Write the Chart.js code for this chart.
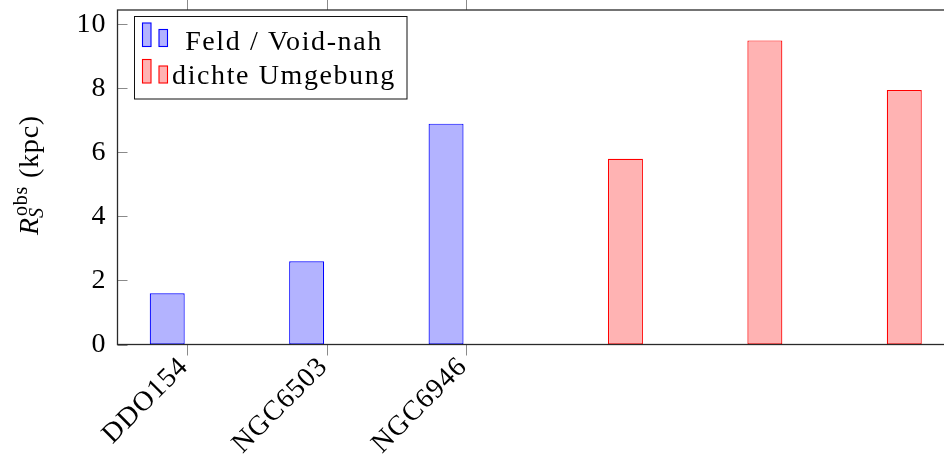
<!DOCTYPE html>
<html>
<head>
<meta charset="utf-8">
<script src="https://cdn.jsdelivr.net/npm/chart.js@4/dist/chart.umd.min.js"></script>
<style>
  html, body { margin: 0; padding: 0; overflow: hidden; background: #fff; width: 944px; height: 459px; }
  #wrap { position: absolute; left: 0; top: 0; width: 962px; height: 459px; }
</style>
</head>
<body>
<div id="wrap"><canvas id="c" width="962" height="459"></canvas></div>
<script>
// Galaxies (only the first three are labelled on the axis)
const galaxies = ['DDO154', 'NGC6503', 'NGC6946', '', '', ''];
// Observed scale radius R_S^obs in kpc
const fieldRadius = [1.6, 2.6, 6.9, null, null, null];
const denseRadius = [null, null, null, 5.8, 9.5, 7.95];
const yTicks = [0, 2, 4, 6, 8, 10];
const seriesNames = ['Feld / Void-nah', 'dichte Umgebung'];

const SERIF = '"Liberation Serif", "Times New Roman", serif';
const BLUE = 'rgb(0,0,255)', BLUE_FILL = 'rgb(179,179,255)';
const RED = 'rgb(255,0,0)', RED_FILL = 'rgb(255,179,179)';

// Slightly looser tracking for the tick labels
const tracking = {
  id: 'tracking',
  beforeDraw(chart) { chart.ctx.letterSpacing = '1px'; },
  afterDatasetsDraw(chart) { chart.ctx.letterSpacing = '0px'; }
};

// Frame, outward x ticks, inward y ticks, legend and rotated y title
const decorations = {
  id: 'decorations',
  afterDraw(chart) {
    const ctx = chart.ctx;
    const a = chart.chartArea;
    const xs = chart.scales.x, ys = chart.scales.y;
    ctx.save();

    // tick marks
    ctx.strokeStyle = '#8a8a8a';
    ctx.lineWidth = 1;
    ctx.beginPath();
    galaxies.forEach((g, i) => {
      if (!g) return;
      const x = Math.round(xs.getPixelForValue(i)) + 0.5;
      ctx.moveTo(x, a.bottom); ctx.lineTo(x, a.bottom + 11);
      ctx.moveTo(x, a.top); ctx.lineTo(x, a.top - 11);
    });
    yTicks.forEach(v => {
      const y = Math.round(ys.getPixelForValue(v)) + 0.5;
      ctx.moveTo(a.left, y); ctx.lineTo(a.left + 10, y);
      ctx.moveTo(a.right, y); ctx.lineTo(a.right - 10, y);
    });
    ctx.stroke();

    // axis frame
    ctx.strokeStyle = '#2a2a2a';
    ctx.lineWidth = 1.3;
    ctx.strokeRect(a.left, a.top, a.right - a.left, a.bottom - a.top);

    // legend
    const lx = 134.5, ly = 16.5, lw = 272.5, lh = 82.5;
    ctx.fillStyle = '#fff';
    ctx.fillRect(lx, ly, lw, lh);
    ctx.strokeStyle = '#111';
    ctx.lineWidth = 1;
    ctx.strokeRect(lx, ly, lw, lh);
    const entries = [
      { fill: BLUE_FILL, stroke: BLUE, dy: 0 },
      { fill: RED_FILL, stroke: RED, dy: 36.5 }
    ];
    entries.forEach(e => {
      ctx.fillStyle = e.fill;
      ctx.strokeStyle = e.stroke;
      ctx.lineWidth = 1.1;
      ctx.fillRect(142.5, 23 + e.dy, 8.5, 23.5);
      ctx.strokeRect(142.5, 23 + e.dy, 8.5, 23.5);
      ctx.fillRect(159, 29.5 + e.dy, 8.5, 17);
      ctx.strokeRect(159, 29.5 + e.dy, 8.5, 17);
    });
    ctx.fillStyle = '#000';
    ctx.font = '28px ' + SERIF;
    ctx.letterSpacing = '1.6px';
    ctx.textAlign = 'center';
    ctx.textBaseline = 'alphabetic';
    ctx.fillText(seriesNames[0], 284, 50);
    ctx.fillText(seriesNames[1], 284, 83.5);

    // y axis title: R_S^obs (kpc)
    ctx.translate(37.5, 175);
    ctx.rotate(-Math.PI / 2);
    ctx.textAlign = 'left';
    ctx.letterSpacing = '0.8px';
    const fR = 'italic 28px ' + SERIF, fS = 'italic 20px ' + SERIF, fO = '20px ' + SERIF, fK = '28px ' + SERIF;
    ctx.font = fR; const wR = ctx.measureText('R').width;
    ctx.font = fS; const wS = ctx.measureText('S').width;
    ctx.font = fO; const wO = ctx.measureText('obs').width;
    ctx.font = fK; const wK = ctx.measureText(' (kpc)').width;
    const total = wR + 1 + Math.max(wS, wO) + wK;
    const x0 = -total / 2;
    ctx.fillStyle = '#000';
    ctx.font = fR; ctx.fillText('R', x0, 0);
    ctx.font = fS; ctx.fillText('S', x0 + wR - 1, 5);
    ctx.font = fO; ctx.fillText('obs', x0 + wR + 1, -11);
    ctx.font = fK; ctx.fillText(' (kpc)', x0 + wR + 1 + Math.max(wS, wO), 0);
    ctx.restore();
  }
};

function zeroPadding(s) {
  s.paddingTop = 0; s.paddingBottom = 0; s.paddingLeft = 0; s.paddingRight = 0;
}

function draw() {
  new Chart(document.getElementById('c'), {
    type: 'bar',
    data: {
      labels: galaxies,
      datasets: [
        { label: seriesNames[0], data: fieldRadius, backgroundColor: BLUE_FILL, borderColor: BLUE,
          borderWidth: 1.2, borderSkipped: false, categoryPercentage: 0.5735, barPercentage: 0.875 },
        { label: seriesNames[1], data: denseRadius, backgroundColor: RED_FILL, borderColor: RED,
          borderWidth: 1.2, borderSkipped: false, categoryPercentage: 0.5735, barPercentage: 0.875 }
      ]
    },
    options: {
      responsive: false,
      animation: false,
      devicePixelRatio: 1,
      layout: { padding: { left: 0, right: 8, top: 10, bottom: 0 } },
      plugins: { legend: { display: false }, tooltip: { enabled: false } },
      scales: {
        x: {
          offset: true,
          grid: { display: false, drawTicks: false },
          border: { display: false },
          ticks: {
            autoSkip: false, minRotation: 45, maxRotation: 45, padding: 6, labelOffset: -3,
            color: '#000', font: { family: SERIF, size: 28 }
          },
          afterFit(s) { s.height = 114.5; zeroPadding(s); }
        },
        y: {
          min: 0, max: 10.45,
          grid: { display: false, drawTicks: false },
          border: { display: false },
          afterBuildTicks(s) { s.ticks = yTicks.map(v => ({ value: v })); },
          ticks: { padding: 11, color: '#000', font: { family: SERIF, size: 28 } },
          afterFit(s) { s.width = 117.5; zeroPadding(s); }
        }
      }
    },
    plugins: [tracking, decorations]
  });
}

Promise.all([
  document.fonts.load('28px "Liberation Serif"'),
  document.fonts.load('italic 28px "Liberation Serif"')
]).then(draw, draw);
</script>
</body>
</html>
